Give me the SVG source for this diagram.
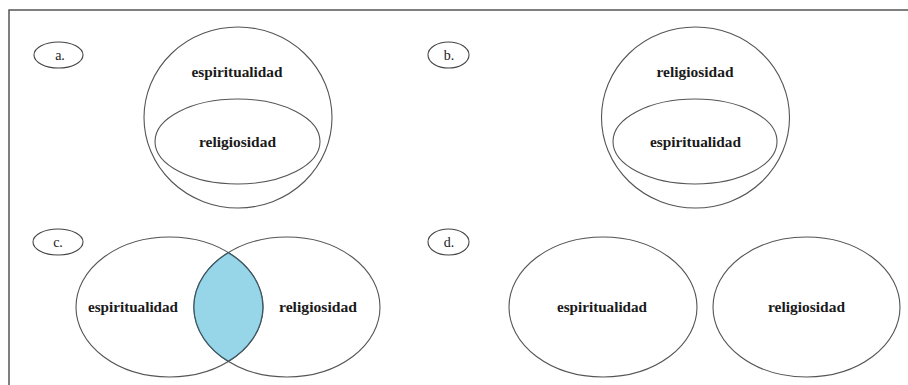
<svg xmlns="http://www.w3.org/2000/svg" width="908" height="385" viewBox="0 0 908 385">
<style>
.o{fill:none;stroke:#555;stroke-width:1.1}
.lb{fill:#fff;stroke:#444;stroke-width:1.1}
.t{font-family:"Liberation Serif","Times New Roman",serif;font-weight:bold;font-size:14px;fill:#1a1a1a;text-anchor:middle}
.l{font-family:"Liberation Serif","Times New Roman",serif;font-size:14px;fill:#1a1a1a;text-anchor:middle}
.lens{fill:#97d5e8;stroke:#3e5660;stroke-width:1.3}
</style>
<rect width="908" height="385" fill="#fff"/>
<g id="frame" fill="none" stroke="#555" stroke-width="1.5">
<path d="M9,385 V10 H908"/>
</g>
<g id="panel-a">
<g id="label-a"><ellipse class="lb" cx="58.5" cy="55" rx="24.5" ry="13"/><text class="l" x="60" y="60">a.</text></g>
<g id="a-espiritualidad"><ellipse class="o" cx="238" cy="117.5" rx="94" ry="90.5"/><text class="t" x="237" y="77" textLength="91" lengthAdjust="spacingAndGlyphs">espiritualidad</text></g>
<g id="a-religiosidad"><ellipse class="o" cx="237.5" cy="141.5" rx="82.5" ry="42.5"/><text class="t" x="237.5" y="147" textLength="77" lengthAdjust="spacingAndGlyphs">religiosidad</text></g>
</g>
<g id="panel-b">
<g id="label-b"><ellipse class="lb" cx="448.5" cy="55" rx="20.5" ry="13"/><text class="l" x="449" y="60">b.</text></g>
<g id="b-religiosidad"><ellipse class="o" cx="695.5" cy="117.5" rx="94" ry="90.5"/><text class="t" x="695" y="77" textLength="77" lengthAdjust="spacingAndGlyphs">religiosidad</text></g>
<g id="b-espiritualidad"><ellipse class="o" cx="695" cy="141.5" rx="82" ry="42.5"/><text class="t" x="695.5" y="147" textLength="91" lengthAdjust="spacingAndGlyphs">espiritualidad</text></g>
</g>
<g id="panel-c">
<g id="label-c"><ellipse class="lb" cx="58" cy="242" rx="25" ry="13"/><text class="l" x="58" y="247">c.</text></g>
<g id="c-espiritualidad"><ellipse class="o" cx="169.5" cy="307" rx="93.5" ry="70"/><text class="t" x="133" y="312" textLength="90" lengthAdjust="spacingAndGlyphs">espiritualidad</text></g>
<g id="c-religiosidad"><ellipse class="o" cx="287" cy="307" rx="93" ry="70"/><text class="t" x="318" y="312" textLength="78" lengthAdjust="spacingAndGlyphs">religiosidad</text></g>
<g id="c-overlap"><path class="lens" d="M228.3,252.6 A93,70 0 0 0 228.3,361.4 A93.5,70 0 0 0 228.3,252.6 Z"/></g>
</g>
<g id="panel-d">
<g id="label-d"><ellipse class="lb" cx="448.5" cy="242" rx="20.5" ry="13"/><text class="l" x="449" y="247">d.</text></g>
<g id="d-espiritualidad"><ellipse class="o" cx="603" cy="307" rx="94" ry="70"/><text class="t" x="602" y="312" textLength="90" lengthAdjust="spacingAndGlyphs">espiritualidad</text></g>
<g id="d-religiosidad"><ellipse class="o" cx="806.5" cy="307" rx="93.5" ry="70"/><text class="t" x="806.5" y="312" textLength="77" lengthAdjust="spacingAndGlyphs">religiosidad</text></g>
</g>
<g id="connectors"/>
</svg>
